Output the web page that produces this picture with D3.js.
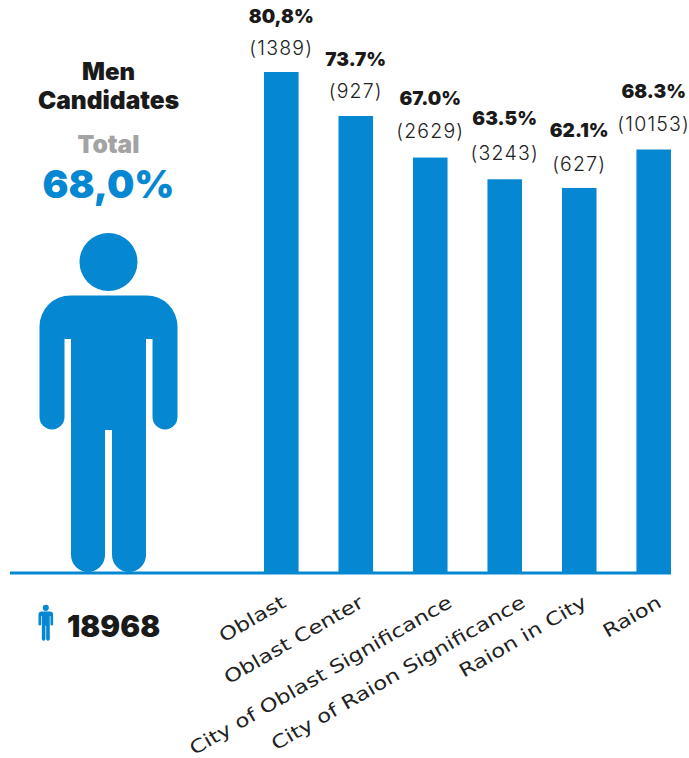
<!DOCTYPE html>
<html>
<head>
<meta charset="utf-8">
<script src="https://cdn.jsdelivr.net/npm/d3@7"></script>
<style>
  html, body { margin: 0; padding: 0; background: #fff; }
  svg { display: block; }
  text { font-family: Inter, "DejaVu Sans", sans-serif; }
</style>
</head>
<body>
<svg id="chart" width="689" height="758"></svg>
<script>
// Candidates by level of council
const categories = ["Oblast", "Oblast Center", "City of Oblast Significance", "City of Raion Significance", "Raion in City", "Raion"];
const shares = [80.8, 73.7, 67.0, 63.5, 62.1, 68.3];
const shareLabels = ["80,8%", "73.7%", "67.0%", "63.5%", "62.1%", "68.3%"];
const counts = [1389, 927, 2629, 3243, 627, 10153];
const totalShare = "68,0%";
const totalCount = "18968";

// Hand-set label clearances above each bar, and axis label shifts
const shareGap = [49, 50, 53, 54, 51, 52];
const countGap = [17, 18, 20, 19, 17, 19];
const axisShift = [6, 9, 23, 22, 9, 9];

const BLUE = "#0587d1", INK = "#1a1a1a", GREY = "#a3a3a3";
const baseY = 573;

const svg = d3.select("#chart");
const x = d3.scaleBand().domain(categories).range([264, 671]).paddingInner(0.536).paddingOuter(0);
const y = d3.scaleLinear().domain([0, 80.8]).range([baseY, 72]);

// Bars
svg.append("g").selectAll("rect").data(categories).join("rect")
  .attr("x", d => x(d))
  .attr("width", x.bandwidth())
  .attr("y", (d, i) => y(shares[i]))
  .attr("height", (d, i) => baseY - y(shares[i]))
  .attr("fill", BLUE);

// Value labels stacked above each bar
const labels = svg.append("g").attr("text-anchor", "middle");
labels.selectAll("text.share").data(categories).join("text")
  .attr("class", "share")
  .attr("x", d => x(d) + x.bandwidth() / 2)
  .attr("y", (d, i) => y(shares[i]) - shareGap[i])
  .attr("font-size", 19).attr("font-weight", 900).attr("fill", INK)
  .text((d, i) => shareLabels[i]);
labels.selectAll("text.count").data(categories).join("text")
  .attr("class", "count")
  .attr("x", d => x(d) + x.bandwidth() / 2)
  .attr("y", (d, i) => y(shares[i]) - countGap[i])
  .attr("font-size", 19.5).attr("font-weight", 300).attr("letter-spacing", 1.2).attr("fill", "#222")
  .text((d, i) => `(${counts[i]})`);

// Category axis with slanted labels
const axis = svg.append("g").attr("transform", `translate(0,${baseY})`)
  .call(d3.axisBottom(x).tickSize(0));
axis.select(".domain").remove();
axis.selectAll("text")
  .style("font-family", '"DejaVu Sans", sans-serif')
  .attr("font-size", 18.5).attr("fill", "#222")
  .attr("text-anchor", "end")
  .attr("dy", 0).attr("y", 0)
  .attr("transform", (d, i) => `translate(${axisShift[i]},33) rotate(-30) scale(1.23,1)`);

// Ground line
svg.append("rect").attr("x", 10).attr("y", baseY - 1.5).attr("width", 661).attr("height", 3).attr("fill", BLUE);

// Person pictogram, drawn in its own units with the feet at y = 0
const personPath = (() => {
  const p = d3.path();
  p.moveTo(-38, -276.5);
  p.lineTo(38, -276.5);
  p.arcTo(69, -276.5, 69, -245.5, 31);
  p.lineTo(69, -155);
  p.arc(56.5, -155, 12.5, 0, Math.PI);
  p.lineTo(44, -233);
  p.lineTo(37.5, -233);
  p.lineTo(37.5, -17);
  p.arc(20.5, -17, 17, 0, Math.PI);
  p.lineTo(3.5, -142);
  p.lineTo(-3.5, -142);
  p.lineTo(-3.5, -17);
  p.arc(-20.5, -17, 17, 0, Math.PI);
  p.lineTo(-37.5, -233);
  p.lineTo(-44, -233);
  p.lineTo(-44, -155);
  p.arc(-56.5, -155, 12.5, 0, Math.PI);
  p.lineTo(-69, -245.5);
  p.arcTo(-69, -276.5, -38, -276.5, 31);
  p.closePath();
  p.moveTo(29, -310);
  p.arc(0, -310, 29, 0, 2 * Math.PI);
  return p.toString();
})();

svg.append("path").attr("d", personPath).attr("fill", BLUE).attr("transform", "translate(108.5,572)");
svg.append("path").attr("d", personPath).attr("fill", BLUE).attr("transform", "translate(45.8,640.7) scale(0.106)");

// Left-hand summary
const summary = svg.append("g");
const addText = (t, tx, ty, size, weight, fill, anchor) => summary.append("text")
  .attr("x", tx).attr("y", ty).attr("font-size", size).attr("font-weight", weight)
  .attr("fill", fill).attr("text-anchor", anchor).text(t);
addText("Men", 108.5, 80, 24, 900, INK, "middle");
addText("Candidates", 108.5, 109, 24.5, 900, INK, "middle");
addText("Total", 108.5, 153, 24.5, 900, GREY, "middle");
addText(totalShare, 108.5, 198, 38.5, 900, BLUE, "middle");
addText(totalCount, 67, 637, 29.5, 900, INK, "start");
</script>
</body>
</html>
